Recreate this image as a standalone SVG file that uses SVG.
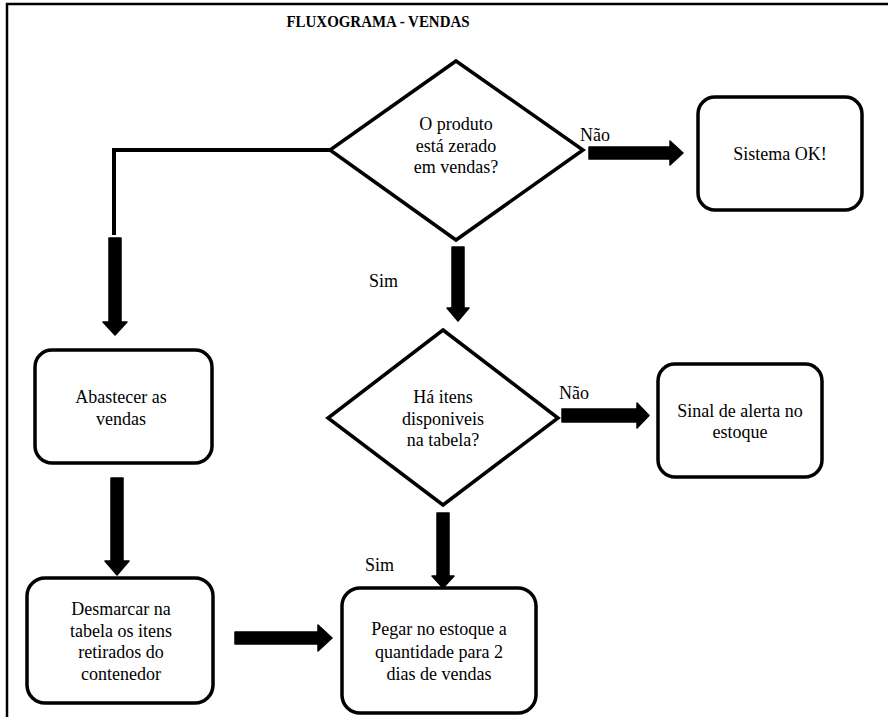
<svg xmlns="http://www.w3.org/2000/svg" width="888" height="717" viewBox="0 0 888 717">
<style>
.frame{fill:none;stroke:#000;stroke-width:2.5}
.box{fill:#fff;stroke:#000;stroke-width:3.5}
.dia{fill:#fff;stroke:#000;stroke-width:3.5;stroke-linejoin:miter}
.t{font-size:18px;fill:#000;text-anchor:middle}
.lbl{font-size:18px;fill:#000}
.title{font-size:16px;font-weight:bold;fill:#000;text-anchor:middle}
.arr{fill:#000;stroke:#000;stroke-width:1.5;stroke-linejoin:round}
.line{fill:none;stroke:#000;stroke-width:4;stroke-linejoin:miter}
</style>
<rect width="888" height="717" fill="#fff"/>
<path class="frame" d="M7,717 V4 H888"/>
<text class="title" style="font-family:'Liberation Serif',serif !important" x="378" y="27" textLength="183" lengthAdjust="spacingAndGlyphs">FLUXOGRAMA - VENDAS</text>

<g id="connectors">
  <path class="line" d="M330,150 H114 V235"/>
  <path class="arr" d="M109,238 H121 V322 H127 L115,335 L103,322 H109 Z"/>
  <path class="arr" d="M452,247 H464 V308 H469 L458,321 L447,308 H452 Z"/>
  <path class="arr" d="M589,147 H670 V141 L683,153 L670,165 V159 H589 Z"/>
  <path class="arr" d="M111,478 H123 V561 H129 L117,575 L105,561 H111 Z"/>
  <path class="arr" d="M562,409 H637 V403 L649,415.5 L637,428 V422 H562 Z"/>
  <path class="arr" d="M437,513 H449 V576 H454 L443,588 L432,576 H437 Z"/>
  <path class="arr" d="M235,632 H318 V625 L332,638 L318,651 V644 H235 Z"/>
  <text class="lbl" style="font-family:'Liberation Serif',serif !important" x="369" y="287">Sim</text>
  <text class="lbl" style="font-family:'Liberation Serif',serif !important" x="580" y="141">Não</text>
  <text class="lbl" style="font-family:'Liberation Serif',serif !important" x="559" y="399">Não</text>
  <text class="lbl" style="font-family:'Liberation Serif',serif !important" x="365" y="571">Sim</text>
</g>

<g id="d1">
  <polygon class="dia" points="456,61 583,150 456,240 330,150"/>
  <text class="t" style="font-family:'Liberation Serif',serif !important" x="456" y="130">O produto</text>
  <text class="t" style="font-family:'Liberation Serif',serif !important" x="456" y="152">está zerado</text>
  <text class="t" style="font-family:'Liberation Serif',serif !important" x="456" y="173">em vendas?</text>
</g>

<g id="ok">
  <rect class="box" x="698" y="97" width="164" height="113" rx="17"/>
  <text class="t" style="font-family:'Liberation Serif',serif !important" x="780" y="160">Sistema OK!</text>
</g>

<g id="d2">
  <polygon class="dia" points="443,330 558,418 443,505 328,418"/>
  <text class="t" style="font-family:'Liberation Serif',serif !important" x="443" y="403">Há itens</text>
  <text class="t" style="font-family:'Liberation Serif',serif !important" x="443" y="425">disponiveis</text>
  <text class="t" style="font-family:'Liberation Serif',serif !important" x="443" y="446">na tabela?</text>
</g>

<g id="alerta">
  <rect class="box" x="658" y="364" width="164" height="113" rx="17"/>
  <text class="t" style="font-family:'Liberation Serif',serif !important" x="740" y="417">Sinal de alerta no</text>
  <text class="t" style="font-family:'Liberation Serif',serif !important" x="740" y="438">estoque</text>
</g>

<g id="abastecer">
  <rect class="box" x="35" y="350" width="177" height="113" rx="17"/>
  <text class="t" style="font-family:'Liberation Serif',serif !important" x="121" y="403">Abastecer as</text>
  <text class="t" style="font-family:'Liberation Serif',serif !important" x="121" y="425">vendas</text>
</g>

<g id="desmarcar">
  <rect class="box" x="27" y="578" width="186" height="125" rx="18"/>
  <text class="t" style="font-family:'Liberation Serif',serif !important" x="121" y="615">Desmarcar na</text>
  <text class="t" style="font-family:'Liberation Serif',serif !important" x="121" y="637">tabela os itens</text>
  <text class="t" style="font-family:'Liberation Serif',serif !important" x="121" y="658">retirados do</text>
  <text class="t" style="font-family:'Liberation Serif',serif !important" x="121" y="680">contenedor</text>
</g>

<g id="pegar">
  <rect class="box" x="342" y="588" width="194" height="125" rx="18"/>
  <text class="t" style="font-family:'Liberation Serif',serif !important" x="439" y="635">Pegar no estoque a</text>
  <text class="t" style="font-family:'Liberation Serif',serif !important" x="439" y="658">quantidade para 2</text>
  <text class="t" style="font-family:'Liberation Serif',serif !important" x="439" y="680">dias de vendas</text>
</g>
</svg>
